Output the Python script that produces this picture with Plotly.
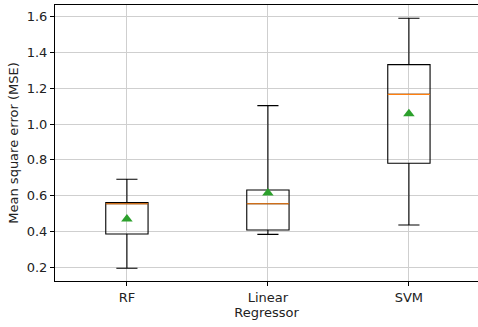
import plotly.graph_objects as go

categories = ["RF", "Linear", "SVM"]
positions = [1, 2, 3]
lower_whisker = [0.195, 0.384, 0.436]
q1 = [0.386, 0.408, 0.781]
median = [0.555, 0.555, 1.166]
q3 = [0.562, 0.632, 1.332]
upper_whisker = [0.692, 1.103, 1.591]
means = [0.470, 0.615, 1.057]

box_width = 0.3

fig = go.Figure()
fig.add_trace(go.Box(
    x=positions, q1=q1, median=median, q3=q3,
    lowerfence=lower_whisker, upperfence=upper_whisker,
    width=box_width, whiskerwidth=0.5,
    line=dict(color="black", width=1.1),
    fillcolor="rgba(0,0,0,0)", boxpoints=False,
    showlegend=False, hoverinfo="skip",
))

mx, my = [], []
for p, m in zip(positions, median):
    mx += [p - box_width / 2, p + box_width / 2, None]
    my += [m, m, None]
fig.add_trace(go.Scatter(x=mx, y=my, mode="lines",
                         line=dict(color="#ff7f0e", width=1.2),
                         showlegend=False, hoverinfo="skip"))

fig.add_trace(go.Scatter(x=positions, y=means, mode="markers",
                         marker=dict(symbol="triangle-up", color="#2ca02c", size=10,
                                     line=dict(width=0)),
                         showlegend=False, hoverinfo="skip"))

font = dict(family="DejaVu Sans", size=13, color="#222222")
fig.update_layout(
    width=478, height=327,
    margin=dict(l=55, r=0, t=5, b=46),
    paper_bgcolor="white", plot_bgcolor="white",
    font=font,
    xaxis=dict(
        range=[0.49, 3.49], tickmode="array", tickvals=positions, ticktext=categories,
        showgrid=True, gridcolor="#cfcfcf", gridwidth=1,
        showline=True, linecolor="black", linewidth=1, mirror=True,
        ticks="outside", ticklen=4, tickcolor="black", zeroline=False,
        title=dict(text="Regressor", standoff=3, font=font),
    ),
    yaxis=dict(
        range=[0.1235, 1.665], tickmode="array",
        tickvals=[0.2, 0.4, 0.6, 0.8, 1.0, 1.2, 1.4, 1.6],
        ticktext=["0.2", "0.4", "0.6", "0.8", "1.0", "1.2", "1.4", "1.6"],
        showgrid=True, gridcolor="#cfcfcf", gridwidth=1,
        showline=True, linecolor="black", linewidth=1, mirror=True,
        ticks="outside", ticklen=4, tickcolor="black", zeroline=False,
        title=dict(text="Mean square error (MSE)", standoff=5, font=font),
    ),
)

fig.write_html("out.html")
